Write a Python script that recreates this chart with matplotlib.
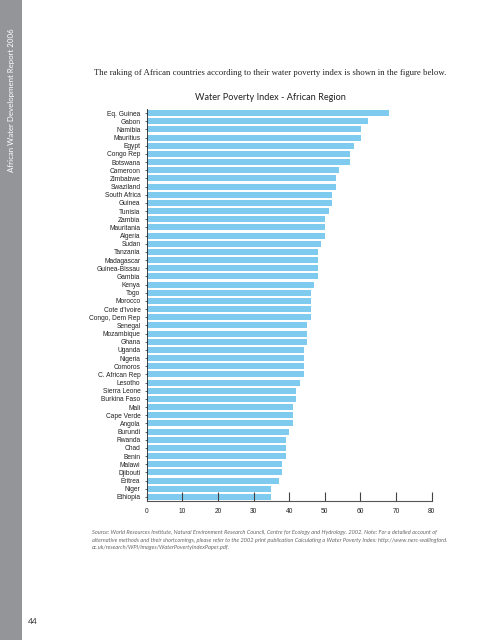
import matplotlib.pyplot as plt
import matplotlib.patches as patches

# ── data ─────────────────────────────────────────────────────────────────────
countries = [
    "Eq. Guinea", "Gabon", "Namibia", "Mauritius", "Egypt", "Congo Rep",
    "Botswana", "Cameroon", "Zimbabwe", "Swaziland", "South Africa", "Guinea",
    "Tunisia", "Zambia", "Mauritania", "Algeria", "Sudan", "Tanzania",
    "Madagascar", "Guinea-Bissau", "Gambia", "Kenya", "Togo", "Morocco",
    "Cote d'Ivoire", "Congo, Dem Rep", "Senegal", "Mozambique", "Ghana",
    "Uganda", "Nigeria", "Comoros", "C. African Rep", "Lesotho",
    "Sierra Leone", "Burkina Faso", "Mali", "Cape Verde", "Angola", "Burundi",
    "Rwanda", "Chad", "Benin", "Malawi", "Djibouti", "Eritrea", "Niger",
    "Ethiopia",
]
wpi = [
    68.1, 62.1, 60.2, 60.2, 58.2, 57.1,
    57.1, 54.0, 53.2, 53.2, 52.1, 52.1,
    51.2, 50.1, 50.1, 50.1, 48.9, 48.1,
    48.1, 48.1, 48.1, 47.0, 46.2, 46.2,
    46.2, 46.2, 45.0, 45.0, 45.0,
    44.2, 44.2, 44.2, 44.2, 43.1,
    42.0, 42.0, 41.2, 41.2, 41.2, 40.0,
    39.2, 39.2, 39.2, 38.0, 38.0, 37.2, 35.0,
    35.0,
]
x_ticks = [0, 10, 20, 30, 40, 50, 60, 70, 80]

BAR_COLOR = "#7ecbef"
SIDE_GRAY = "#939598"

fig = plt.figure(figsize=(4.95, 6.4), dpi=100)
fig.patch.set_facecolor("white")

# ── page decoration ──────────────────────────────────────────────────────────
fig.add_artist(patches.Rectangle((0, 0), 22 / 495, 1, transform=fig.transFigure,
                                 facecolor=SIDE_GRAY, edgecolor="none"))
fig.text(12 / 495, 1 - 100 / 640, "African Water Development Report 2006",
         rotation=90, color="white", fontsize=5.7, family="Lato",
         ha="center", va="center")
fig.text(33 / 495, 1 - 622 / 640, "44", fontsize=6, color="#333333",
         family="Lato", ha="center", va="center")

fig.text(270 / 495, 1 - 73 / 640,
         "The raking of African countries according to their water poverty "
         "index is shown in the figure below.",
         family="Liberation Serif", fontsize=6.3, color="#222222",
         ha="center", va="center")

fig.text(270 / 495, 1 - 97 / 640, "Water Poverty Index - African Region",
         family="Lato", fontsize=6.6, color="#222222", ha="center", va="center")

source_lines = [
    "Source: World Resources Institute, Natural Environment Research Council, "
    "Centre for Ecology and Hydrology. 2002. Note: For a detailed account of",
    "alternative methods and their shortcomings, please refer to the 2002 print "
    "publication Calculating a Water Poverty Index: http://www.nerc-wallingford.",
    "ac.uk/research/WPI/images/WaterPovertyIndexPaper.pdf.",
]
for i, line in enumerate(source_lines):
    fig.text(92 / 495, 1 - (532.5 + i * 7.5) / 640, line, family="Lato",
             style="italic", fontsize=4.1, color="#666666",
             ha="left", va="center")

# ── chart ────────────────────────────────────────────────────────────────────
ax = fig.add_axes([146.7 / 495, 139 / 640, 284.8 / 495, 392 / 640])
ypos = list(range(len(countries)))
ax.barh(ypos, wpi, height=0.75, color=BAR_COLOR, edgecolor="none", zorder=1)
ax.set_ylim(len(countries) - 0.5, -0.5)
ax.set_xlim(0, 80)

ax.set_yticks(ypos)
ax.set_yticklabels(countries, family="Liberation Sans", fontsize=4.8,
                   color="#222222")
ax.set_xticks(x_ticks)
ax.set_xticklabels([str(t) for t in x_ticks], family="Liberation Sans",
                   fontsize=4.8, color="#222222")

for side in ("top", "right"):
    ax.spines[side].set_visible(False)
ax.spines["left"].set_color("#222222")
ax.spines["left"].set_linewidth(0.6)
ax.spines["bottom"].set_color("#555555")
ax.spines["bottom"].set_linewidth(0.8)
ax.tick_params(axis="y", length=1.5, width=0.5, pad=3, color="#222222")
ax.tick_params(axis="x", direction="in", length=6.5, width=0.8, pad=5,
               color="#444444")
ax.set_axisbelow(False)

fig.savefig("out.png", dpi=100)
